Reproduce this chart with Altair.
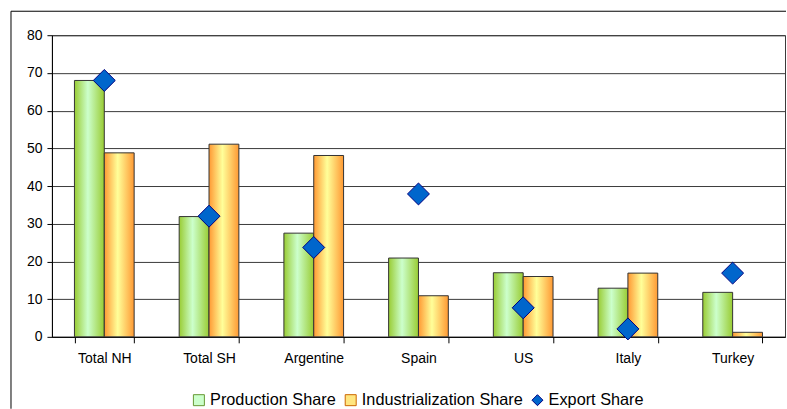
import altair as alt
import pandas as pd

categories = ["Total NH", "Total SH", "Argentine", "Spain", "US", "Italy", "Turkey"]
production_share = [68, 31.9, 27.5, 20.9, 17, 12.9, 11.8]
industrialization_share = [48.8, 51.1, 48.1, 10.9, 16, 16.9, 1.2]
export_share = [68, 32, 23.7, 37.9, 7.7, 2.1, 16.9]
series_names = ["Production Share", "Industrialization Share", "Export Share"]

rows = []
for i, c in enumerate(categories):
    rows.append({"cat": c, "series": series_names[0], "value": production_share[i]})
    rows.append({"cat": c, "series": series_names[1], "value": industrialization_share[i]})
    rows.append({"cat": c, "series": series_names[2], "value": export_share[i]})
df = pd.DataFrame(rows)

FONT = "Liberation Sans"

x_enc = alt.X(
    "cat:N",
    sort=categories,
    title=None,
    scale=alt.Scale(paddingInner=0.43, paddingOuter=0.215),
    axis=alt.Axis(
        labelAngle=0, labelFontSize=14, labelColor="#000000", labelFont=FONT,
        tickBand="extent", tickSize=6, tickColor="#000000", domainColor="#000000",
        labelPadding=9, grid=False,
    ),
)
y_enc = alt.Y(
    "value:Q",
    title=None,
    scale=alt.Scale(domain=[0, 80], nice=False),
    axis=alt.Axis(
        values=[0, 10, 20, 30, 40, 50, 60, 70, 80], labelFontSize=14, labelFont=FONT,
        labelColor="#000000", tickSize=5, tickColor="#000000", domainColor="#000000",
        gridColor="#3a3a3a", gridWidth=1, labelPadding=5,
    ),
)
xoff = alt.XOffset("series:N", scale=alt.Scale(domain=series_names[:2], paddingInner=0, paddingOuter=0))

green_grad = alt.Gradient(
    gradient="linear", x1=0, x2=1, y1=0, y2=0,
    stops=[
        alt.GradientStop(color="#99CC33", offset=0),
        alt.GradientStop(color="#CCFFCC", offset=0.45),
        alt.GradientStop(color="#99CC33", offset=1),
    ],
)
orange_grad = alt.Gradient(
    gradient="linear", x1=0, x2=1, y1=0, y2=0,
    stops=[
        alt.GradientStop(color="#FF9933", offset=0),
        alt.GradientStop(color="#FFFF99", offset=0.45),
        alt.GradientStop(color="#FF9933", offset=1),
    ],
)

base = alt.Chart(df)

prod_bars = base.transform_filter(alt.datum.series == series_names[0]).mark_bar(
    color=green_grad, stroke="#333333", strokeWidth=1
).encode(x=x_enc, y=y_enc, xOffset=xoff)

ind_bars = base.transform_filter(alt.datum.series == series_names[1]).mark_bar(
    color=orange_grad, stroke="#333333", strokeWidth=1
).encode(x=x_enc, y=y_enc, xOffset=xoff)

legend = alt.Legend(
    title=None, orient="none", direction="horizontal", legendX=139, legendY=357,
    labelFontSize=16.3, labelFont=FONT, labelColor="#000000", symbolSize=121,
    symbolStrokeWidth=1, labelOffset=3, columnPadding=6, labelLimit=400,
)
export_pts = base.transform_filter(alt.datum.series == series_names[2]).mark_point(
    filled=True, size=484, opacity=1, strokeWidth=1
).encode(
    x=x_enc,
    y=y_enc,
    color=alt.Color("series:N", scale=alt.Scale(domain=series_names, range=["#CCFFCC", "#FFE680", "#0066CC"]), legend=legend),
    shape=alt.Shape("series:N", scale=alt.Scale(domain=series_names, range=["square", "square", "diamond"]), legend=legend),
    stroke=alt.Stroke("series:N", scale=alt.Scale(domain=series_names, range=["#669933", "#CC6600", "#000080"]), legend=legend),
)

frame_src = alt.Chart(pd.DataFrame({"k": [0]}))
frame_top = frame_src.mark_rule(stroke="#000000", strokeWidth=1, clip=False).encode(
    x=alt.value(-41), x2=alt.value(735), y=alt.value(-24)
)
frame_left = frame_src.mark_rule(stroke="#000000", strokeWidth=1, clip=False).encode(
    x=alt.value(-41), y=alt.value(-24), y2=alt.value(374)
)

chart = alt.layer(frame_top, frame_left, prod_bars, ind_bars, export_pts).properties(
    width=734, height=302, padding={"left": 10, "top": 10, "right": 0, "bottom": 0},
    background="#ffffff",
).configure_view(stroke="#3a3a3a", strokeWidth=1)

chart.save("out.html", embed_options={"renderer": "svg", "actions": False})
